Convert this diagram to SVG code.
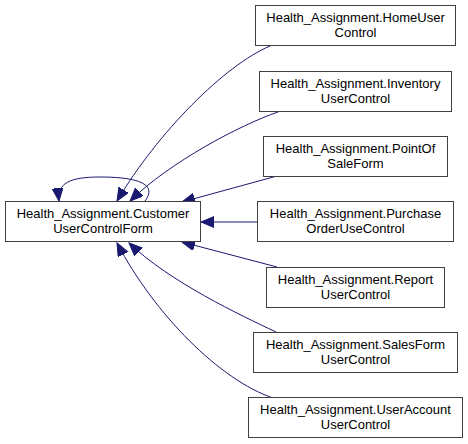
<svg xmlns="http://www.w3.org/2000/svg" width="468" height="444" viewBox="0 0 468 444">
<style>
.box{fill:#fff;stroke:#404040;stroke-width:1}
.t{font-family:"Liberation Sans",Arial,sans-serif;font-size:13px;fill:#000;text-anchor:middle}
.e{fill:none;stroke:#191970;stroke-width:1}
</style>
<defs>
<marker id="ah" markerUnits="userSpaceOnUse" markerWidth="16" markerHeight="14" refX="13" refY="5.5" orient="auto">
<path d="M0,0 L13,5.5 L0,11 Z" fill="#191970" stroke="#191970" stroke-width="1"/>
</marker>
</defs>
<rect width="468" height="444" fill="#fff"/>
<g id="edges">
<path class="e" marker-end="url(#ah)" d="M145,201 C156,187 145,177 100,177 C70,177 57,183 59,201"/>
<path class="e" marker-end="url(#ah)" d="M270,46 C225,65 158,132 117,201"/>
<path class="e" marker-end="url(#ah)" d="M278,112 C240,125 170,162 130,201"/>
<path class="e" marker-end="url(#ah)" d="M277,176 L182,202"/>
<path class="e" marker-end="url(#ah)" d="M257,222 L201,222"/>
<path class="e" marker-end="url(#ah)" d="M277,267 L182,242"/>
<path class="e" marker-end="url(#ah)" d="M276,332 C240,315 170,282 129,243"/>
<path class="e" marker-end="url(#ah)" d="M273,398 C220,380 155,315 117,243"/>
</g>
<g id="CustomerUserControlForm">
<rect class="box" x="5.5" y="201.5" width="195" height="40"/>
<text class="t" x="103" y="218">Health_Assignment.Customer</text>
<text class="t" x="103" y="233">UserControlForm</text>
</g>
<g id="HomeUserControl">
<rect class="box" x="255.5" y="5.5" width="200" height="40"/>
<text class="t" x="355.5" y="22">Health_Assignment.HomeUser</text>
<text class="t" x="355.5" y="37">Control</text>
</g>
<g id="InventoryUserControl">
<rect class="box" x="259.5" y="71.5" width="192" height="40"/>
<text class="t" x="355.5" y="88">Health_Assignment.Inventory</text>
<text class="t" x="355.5" y="103">UserControl</text>
</g>
<g id="PointOfSaleForm">
<rect class="box" x="263.5" y="136.5" width="184" height="40"/>
<text class="t" x="355.5" y="153">Health_Assignment.PointOf</text>
<text class="t" x="355.5" y="168">SaleForm</text>
</g>
<g id="PurchaseOrderUseControl">
<rect class="box" x="257.5" y="201.5" width="196" height="40"/>
<text class="t" x="355.5" y="218">Health_Assignment.Purchase</text>
<text class="t" x="355.5" y="233">OrderUseControl</text>
</g>
<g id="ReportUserControl">
<rect class="box" x="266.5" y="267.5" width="178" height="40"/>
<text class="t" x="355.5" y="284">Health_Assignment.Report</text>
<text class="t" x="355.5" y="299">UserControl</text>
</g>
<g id="SalesFormUserControl">
<rect class="box" x="253.5" y="332.5" width="204" height="40"/>
<text class="t" x="355.5" y="349">Health_Assignment.SalesForm</text>
<text class="t" x="355.5" y="364">UserControl</text>
</g>
<g id="UserAccountUserControl">
<rect class="box" x="248.5" y="397.5" width="214" height="40"/>
<text class="t" x="355.5" y="414">Health_Assignment.UserAccount</text>
<text class="t" x="355.5" y="429">UserControl</text>
</g>
</svg>
